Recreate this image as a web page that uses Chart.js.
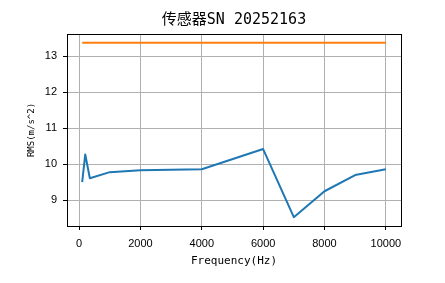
<!DOCTYPE html>
<html>
<head>
<meta charset="utf-8">
<script src="https://cdn.jsdelivr.net/npm/chart.js@4.4.1/dist/chart.umd.min.js"></script>
<style>
  html, body { margin: 0; padding: 0; background: #fff; }
  #wrap { width: 445px; height: 283px; }
</style>
</head>
<body>
<div id="wrap"><canvas id="chart" width="445" height="283"></canvas></div>
<script>
// ---- data ----
const freqHz     = [100, 200, 350, 1000, 2000, 4000, 6000, 7000, 8000, 9000, 10000];
const rmsValues  = [9.50, 10.27, 9.61, 9.78, 9.83, 9.86, 10.42, 8.53, 9.25, 9.70, 9.86];
const limitFreq  = [100, 10000];
const limitValue = [13.37, 13.37];
const xTicks     = [0, 2000, 4000, 6000, 8000, 10000];
const yTicks     = [9, 10, 11, 12, 13];

const TITLE  = "传感器SN 20252163";
const XLABEL = "Frequency(Hz)";
const YLABEL = "RMS(m/s^2)";

const BLUE   = "#1f77b4";
const ORANGE = "#ff7f0e";
const GRID   = "#b0b0b0";
const MONO   = "'DejaVu Sans Mono', 'Noto Sans CJK SC', monospace";
const SANS   = "'Liberation Sans', Arial, sans-serif";

const toPoints = (xs, ys) => xs.map((x, i) => ({ x, y: ys[i] }));

// top/right spines (matplotlib style box) + centre the title over the axes
const frame = {
  id: "frame",
  beforeDraw(chart) {
    const tb = chart.titleBlock;
    if (tb) { tb.left = chart.chartArea.left; tb.right = chart.chartArea.right; }
  },
  afterDatasetsDraw(chart) {
    const { ctx, chartArea: a } = chart;
    ctx.save();
    ctx.strokeStyle = "#000";
    ctx.lineWidth = 1;
    ctx.strokeRect(Math.round(a.left) + 0.5, Math.round(a.top) + 0.5,
                   Math.round(a.right - a.left), Math.round(a.bottom - a.top));
    ctx.restore();
  }
};

new Chart(document.getElementById("chart").getContext("2d"), {
  type: "scatter",
  data: {
    datasets: [
      {
        data: toPoints(freqHz, rmsValues),
        showLine: true,
        borderColor: BLUE,
        backgroundColor: BLUE,
        borderWidth: 2,
        pointRadius: 0,
        tension: 0,
        borderJoinStyle: "round",
      },
      {
        data: toPoints(limitFreq, limitValue),
        showLine: true,
        borderColor: ORANGE,
        backgroundColor: ORANGE,
        borderWidth: 2,
        pointRadius: 0,
        tension: 0,
      },
    ],
  },
  options: {
    responsive: false,
    animation: false,
    devicePixelRatio: 1,
    layout: { padding: { top: 0, left: 0, right: 44, bottom: 0 } },
    plugins: {
      legend: { display: false },
      tooltip: { enabled: false },
      title: {
        display: true,
        text: TITLE,
        color: "#000",
        font: { family: MONO, size: 15, weight: "normal" },
        padding: { top: 11, bottom: 5 },
      },
    },
    scales: {
      x: {
        type: "linear",
        min: -395,
        max: 10495,
        afterBuildTicks: s => { s.ticks = xTicks.map(v => ({ value: v })); },
        afterFit: s => { s.height = 57; },
        ticks: {
          color: "#000",
          font: { family: SANS, size: 11 },
          padding: 7,
          maxRotation: 0,
          autoSkip: false,
          callback: v => String(v),
        },
        grid: { color: GRID, lineWidth: 1, tickColor: "#000", tickLength: 4, tickWidth: 1 },
        border: { color: "#000", width: 1 },
        title: {
          display: true,
          text: XLABEL,
          color: "#000",
          font: { family: MONO, size: 11 },
          padding: { top: 0, bottom: 15 },
        },
      },
      y: {
        type: "linear",
        min: 8.286,
        max: 13.611,
        afterBuildTicks: s => { s.ticks = yTicks.map(v => ({ value: v })); },
        afterFit: s => { s.width = 67; },
        ticks: {
          color: "#000",
          font: { family: SANS, size: 11 },
          padding: 6,
          autoSkip: false,
          callback: v => String(v),
        },
        grid: { color: GRID, lineWidth: 1, tickColor: "#000", tickLength: 4, tickWidth: 1 },
        border: { color: "#000", width: 1 },
        title: {
          display: true,
          text: YLABEL,
          color: "#000",
          font: { family: MONO, size: 9 },
          padding: { top: 26, bottom: 0 },
        },
      },
    },
  },
  plugins: [frame],
});
</script>
</body>
</html>
